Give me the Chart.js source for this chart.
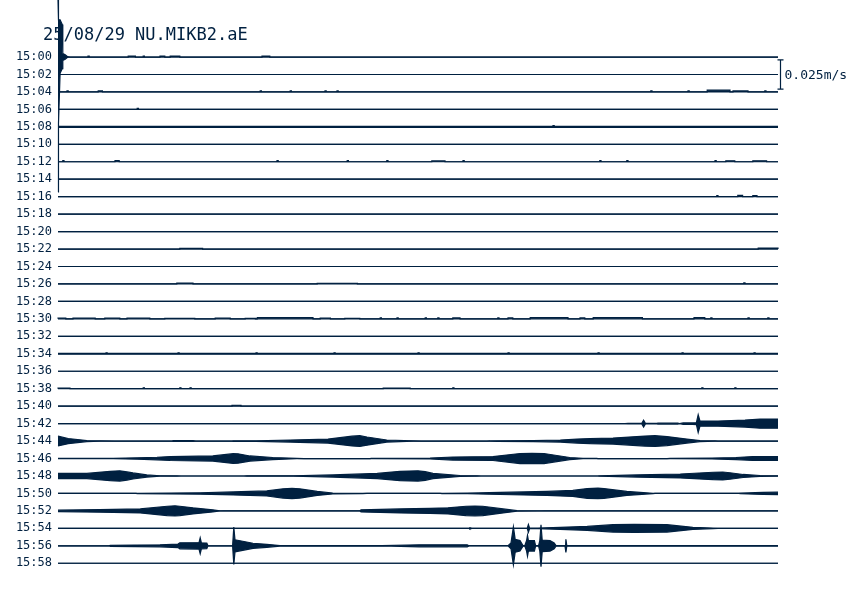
<!DOCTYPE html>
<html>
<head>
<meta charset="utf-8">
<title>25/08/29 NU.MIKB2.aE</title>
<script src="https://cdn.jsdelivr.net/npm/chart.js@4.4.0/dist/chart.umd.min.js"></script>
<style>
  body { margin: 0; background: #fff; }
  #wrap { width: 852px; height: 604px; position: relative; }
</style>
</head>
<body>
<div id="wrap"><canvas id="heli"></canvas></div>
<script>
'use strict';

let inkColor = '#002040';
let stationTitle = '25/08/29 NU.MIKB2.aE';
let scaleLabel = '0.025m/s';
let scaleValue = 25;      // mm/s, length of the scale bar
let rowSpacing = 15;      // mm/s between two traces
let rowSeconds = 120;     // each trace is 2 minutes

let rowLabels = ['15:00', '15:02', '15:04', '15:06', '15:08', '15:10', '15:12', '15:14',
  '15:16', '15:18', '15:20', '15:22', '15:24', '15:26', '15:28', '15:30', '15:32', '15:34',
  '15:36', '15:38', '15:40', '15:42', '15:44', '15:46', '15:48', '15:50', '15:52', '15:54',
  '15:56', '15:58'];

// knots: [seconds, amplitude up, amplitude down (defaults to up)] in mm/s
// ticks: [seconds, height, width in seconds] small noise marks over a flat base
let tr1500 = [[0, 49, 116], [0.08, 32, 57], [0.35, 32, 14], [0.7, 28, 10], [0.8, 3, 3],
  [1.2, 2, 2], [1.6, 0.3, 0.3], [2, 0, 0]];
let ticks1500 = [[5, 0.9], [11.7, 0.9, 1.2], [14.2, 0.9], [17, 0.9, 0.8], [18.7, 0.9, 1.6],
  [34, 0.9, 1.3]];
let ticks1504 = [[1.5, 0.9], [6.7, 0.9, 0.7], [33.7, 0.9], [38.7, 0.9], [44.5, 0.9],
  [46.5, 0.9], [98.8, 0.9], [105, 0.9], [108.2, 1.5, 3.8], [112.5, 0.9, 2.5], [117.8, 0.9]];
let ticks1506 = [[13.2, 0.9]];
let ticks1508 = [[82.5, 0.6]];
let ticks1512 = [[0.8, 0.9], [9.5, 0.9, 0.7], [36.5, 0.9], [48.2, 0.9], [54.8, 0.9],
  [62.3, 0.7, 2.2], [67.5, 0.9], [90.3, 0.9], [94.8, 0.9], [109.5, 0.9], [111.3, 0.8, 1.5],
  [115.8, 0.8, 2.3]];
let ticks1516 = [[109.8, 0.9], [113.3, 1.2, 0.8], [115.8, 0.9, 0.7]];
let ticks1522 = [[20.3, 0.6, 3.8], [116.7, 0.9, 3.3]];
let ticks1526 = [[19.8, 0.7, 2.7], [43.2, 0.6, 6.7], [114.3, 0.9]];
let ticks1530 = [[0, 0.6, 1.3], [2.5, 0.6, 3.7], [7.8, 0.6, 2.5], [11.5, 0.6, 3.8],
  [17.8, 0.5, 5], [26.2, 0.6, 2.5], [31.2, 0.5, 1.7], [33.2, 1.2, 9.3], [43.7, 0.6, 1.7],
  [47.8, 0.5, 2.5], [53.7, 0.8], [56.5, 0.8], [61.2, 0.8], [63.3, 0.8], [65.8, 0.8, 1.2],
  [73.3, 0.8], [75, 0.8, 0.8], [78.7, 1.2, 6.3], [87, 0.8, 0.8], [89.2, 1.2, 8.2],
  [106, 1, 1.8], [108.8, 0.8], [115, 0.8], [118.3, 0.8]];
let ticks1534 = [[8, 0.5], [20, 0.5], [33, 0.5], [46, 0.5], [60, 0.5], [75, 0.5], [90, 0.5],
  [104, 0.5], [116, 0.5]];
let ticks1538 = [[0, 0.6, 2], [14.2, 0.8], [20.3, 0.8], [22, 0.8], [54.2, 0.5, 4.5],
  [65.8, 0.8], [107.3, 0.8], [112.8, 0.8]];
let ticks1540 = [[29, 0.8, 1.5]];

let tr1542 = [[94.5, 0], [95, 0.2], [97.3, 0.2], [97.6, 3.0], [97.9, 0.2], [99.8, 0.2],
  [100, 0.4], [103.3, 0.4], [103.6, 0.1], [104.2, 0.6], [105.8, 0.6], [106.4, 0.8],
  [106.7, 7.7], [107, 2.2], [110, 2.2], [114.5, 3.0], [117, 3.9], [120, 3.9]];
let tr1544 = [[0, 4.2], [1.7, 2.2], [4.8, 0.4], [7, 0.1], [9.5, 0], [19, 0], [19.2, 0.3],
  [22.5, 0.3], [23, 0], [29, 0], [29.2, 0.2], [33, 0.2], [38.7, 0.9], [45, 1.7], [49, 4.2],
  [50.3, 4.6], [51.5, 3.5], [54.8, 0.9], [59.2, 0.1], [60.5, 0], [71.5, 0], [72, 0.1],
  [73.2, 0.2], [79.2, 0.4], [83.7, 0.9], [86.5, 1.7], [88.7, 2.2], [92.5, 2.6], [97.8, 4.3],
  [99.5, 4.6], [101.5, 3.9], [104.8, 1.7], [107, 0.4], [109.5, 0.1], [110, 0]];
let tr1546 = [[0, 0.1], [9.2, 0.2], [13.2, 0.6], [16.5, 1.1], [18.7, 1.7], [25.8, 2.2],
  [29.2, 4.2], [30, 4.0], [32, 2.2], [35.8, 0.9], [39.8, 0.2], [41, 0], [52, 0], [52.2, 0.2],
  [62, 0.4], [65.8, 1.3], [72.5, 1.7], [77, 4.3], [79, 4.4], [81, 4.3], [85.3, 0.9],
  [87.5, 0.2], [89.8, 0.1], [90, 0], [101.5, 0], [102, 0.1], [109, 0.4], [113, 0.9],
  [115.8, 1.7], [120, 1.7]];
let tr1548 = [[0, 2.2], [4.8, 2.2], [8.7, 4.0], [10.3, 4.4], [11.5, 3.5], [12.5, 2.6],
  [14.8, 0.9], [17, 0.2], [19.8, 0.05], [20.5, 0], [31, 0], [31.5, 0.1], [39.2, 0.2],
  [45.8, 0.9], [53.2, 2.2], [57, 4.0], [60, 4.4], [61.2, 3.7], [62.5, 2.2], [67, 0.4],
  [69.8, 0.1], [70.5, 0], [90, 0], [90.2, 0.1], [96.5, 0.9], [103.7, 1.7], [109.2, 3.2],
  [110.8, 3.4], [112, 2.8], [114.2, 1.3], [117, 0.4], [120, 0.1]];
let tr1550 = [[13, 0], [13.2, 0.1], [23.7, 0.6], [29.2, 1.3], [34.8, 2.2], [37.5, 4.0],
  [39, 4.4], [40.3, 4.0], [43.2, 1.7], [45.8, 0.4], [50.8, 0.1], [51.5, 0], [63.7, 0],
  [64, 0.1], [68.2, 0.2], [73.7, 0.9], [81.5, 1.7], [85.8, 2.6], [88.2, 4.2], [90, 4.5],
  [91, 4.2], [94.8, 1.7], [99.2, 0.1], [99.5, 0], [113.5, 0], [113.7, 0.2], [117.5, 0.9],
  [120, 1.1]];
let tr1552 = [[0, 0.6], [7, 1.1], [13.7, 1.7], [18.2, 4.0], [19.5, 4.4], [20.3, 4.0],
  [22.5, 2.6], [25.8, 0.9], [27, 0.1], [27.5, 0], [50.3, 0], [50.5, 0.9], [57, 1.7],
  [62, 2.2], [65, 2.6], [68, 4.0], [69.5, 4.2], [70.8, 4.0], [74.2, 1.7], [76.5, 0.2],
  [80.3, 0.1], [81, 0]];
let tr1554 = [[68.5, 0], [68.6, 0.5], [68.8, 0.5], [68.9, 0], [78.2, 0], [78.4, 3.4],
  [78.6, 0.2], [80, 0.2], [83.7, 0.9], [88.2, 1.7], [92.5, 3.2], [96, 3.4], [101.5, 3.2],
  [105.8, 0.9], [109.2, 0.2], [110, 0]];
let tr1556 = [[8.5, 0], [8.7, 0.4], [17, 0.9], [20, 1.5], [20.3, 2.6], [23.5, 2.8],
  [23.7, 6.9], [23.9, 2.6], [24.8, 2.4], [25, 0], [29.1, 0], [29.3, 16.1], [29.5, 5.2],
  [32.5, 2.2], [34.8, 1.3], [37, 0.2], [54, 0.1], [60.2, 0.9], [68.2, 0.9], [68.5, 0.1],
  [75, 0.1], [75.5, 2.5], [75.9, 16.3], [76.2, 5.5], [77, 4.5], [77.5, 0.3], [77.8, 0.2],
  [78.1, 4.5], [78.25, 9.0], [78.4, 4.5], [79.4, 4.5], [79.6, 0.2], [80.1, 0.2],
  [80.3, 4.5], [80.5, 18.0], [80.7, 5.0], [82, 4.5], [82.7, 2.5], [83, 0.2], [84.5, 0.2],
  [84.65, 5.6], [84.8, 0.2], [120, 0.2]];

// which data belongs to which trace (row index in rowLabels)
let rowSpecs = {
  0: { knots: tr1500, ticks: ticks1500 },
  2: { ticks: ticks1504 },
  3: { ticks: ticks1506 },
  4: { base: [0.45, 0.45], ticks: ticks1508 },
  6: { ticks: ticks1512 },
  8: { ticks: ticks1516 },
  11: { ticks: ticks1522 },
  13: { ticks: ticks1526 },
  15: { ticks: ticks1530 },
  17: { base: [0.4, 0.4], ticks: ticks1534 },
  19: { ticks: ticks1538 },
  20: { ticks: ticks1540 },
  21: { knots: tr1542 },
  22: { knots: tr1544 },
  23: { knots: tr1546 },
  24: { knots: tr1548 },
  25: { knots: tr1550 },
  26: { knots: tr1552 },
  27: { knots: tr1554 },
  28: { knots: tr1556 }
};

function buildRow(spec) {
  let base = spec.base || [0, 0];
  let pts = [];
  (spec.knots || []).forEach(function (k) {
    pts.push([k[0], k[1], k.length > 2 ? k[2] : k[1]]);
  });
  if (!pts.length || pts[0][0] > 0) pts.unshift([0, base[0], base[1]]);
  (spec.ticks || []).forEach(function (tk) {
    let t0 = tk[0];
    let t1 = tk[0] + (tk[2] || 0.2);
    pts.push([t0, base[0], base[1]], [t0, base[0] + tk[1], base[1]],
      [t1, base[0] + tk[1], base[1]], [t1, base[0], base[1]]);
  });
  if (pts[pts.length - 1][0] < rowSeconds) pts.push([rowSeconds, base[0], base[1]]);
  return pts;
}

let datasets = [];
for (let i = 0; i < rowLabels.length; i++) {
  let offset = -i * rowSpacing;
  let pts = buildRow(rowSpecs[i] || {});
  let common = {
    borderColor: inkColor,
    backgroundColor: inkColor,
    borderWidth: 1.2,
    pointRadius: 0,
    tension: 0,
    clip: false
  };
  datasets.push(Object.assign({
    label: rowLabels[i] + ' up',
    data: pts.map(p => ({ x: p[0], y: offset + p[1] })),
    fill: false
  }, common));
  datasets.push(Object.assign({
    label: rowLabels[i] + ' down',
    data: pts.map(p => ({ x: p[0], y: offset - p[2] })),
    fill: '-1'
  }, common));
}

let overlay = {
  id: 'overlay',
  beforeDatasetsDraw(chart) {
    let ctx = chart.ctx;
    ctx.save();
    ctx.fillStyle = inkColor;
    ctx.font = '17px "DejaVu Sans Mono"';
    ctx.textBaseline = 'alphabetic';
    ctx.textAlign = 'left';
    ctx.fillText(stationTitle, 43, 40);
    ctx.restore();
  },
  afterDatasetsDraw(chart) {
    let ctx = chart.ctx;
    let y = chart.scales.y;
    let x = chart.chartArea.right + 2.5;
    let top = y.getPixelForValue(-rowSpacing + scaleValue / 2);
    let bottom = y.getPixelForValue(-rowSpacing - scaleValue / 2);
    ctx.save();
    ctx.strokeStyle = inkColor;
    ctx.lineWidth = 1.2;
    ctx.beginPath();
    ctx.moveTo(x, top);
    ctx.lineTo(x, bottom);
    ctx.moveTo(x - 3, top);
    ctx.lineTo(x + 3, top);
    ctx.moveTo(x - 3, bottom);
    ctx.lineTo(x + 3, bottom);
    ctx.stroke();
    ctx.fillStyle = inkColor;
    ctx.font = '13px "DejaVu Sans Mono"';
    ctx.textBaseline = 'middle';
    ctx.textAlign = 'left';
    ctx.fillText(scaleLabel, x + 4, (top + bottom) / 2 + 1);
    ctx.restore();
  }
};

let ctx = document.getElementById('heli').getContext('2d');
let chart = new Chart(ctx, {
  type: 'line',
  data: { datasets: datasets },
  options: {
    responsive: true,
    maintainAspectRatio: false,
    animation: false,
    events: [],
    layout: { padding: { left: 0, right: 74, top: 0, bottom: 0 } },
    plugins: {
      legend: { display: false },
      tooltip: { enabled: false },
      title: { display: false }
    },
    scales: {
      x: {
        type: 'linear',
        min: 0,
        max: rowSeconds,
        display: false
      },
      y: {
        type: 'linear',
        min: -470,
        max: 49,
        grid: { display: false, drawTicks: false },
        border: { display: false },
        afterFit(scale) {
          scale.width = 58;
          scale.paddingTop = 0;
          scale.paddingBottom = 0;
        },
        afterBuildTicks(scale) {
          scale.ticks = rowLabels.map((l, i) => ({ value: -i * rowSpacing }));
        },
        ticks: {
          autoSkip: false,
          padding: 6,
          color: inkColor,
          font: { family: 'DejaVu Sans Mono', size: 12 },
          callback: (v, i) => rowLabels[i]
        }
      }
    }
  },
  plugins: [overlay]
});
</script>
</body>
</html>
